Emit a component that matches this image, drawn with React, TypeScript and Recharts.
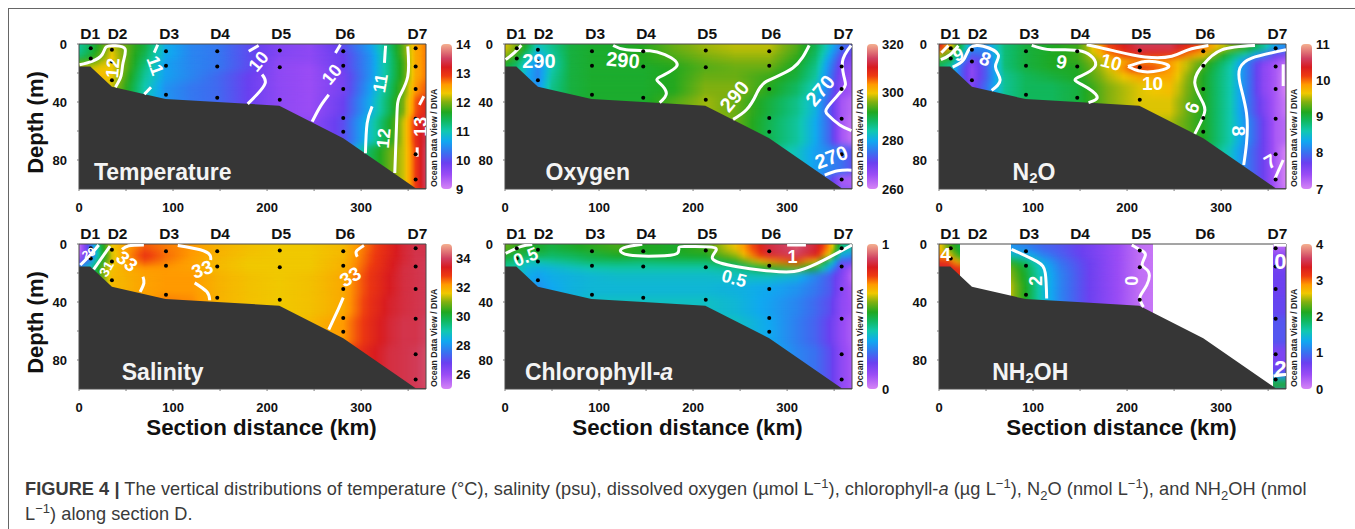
import React from "react";
import { Area, Bar, ComposedChart, Line, ReferenceArea, Scatter, XAxis, YAxis } from "recharts";

const FONT = "'Liberation Sans', Arial, sans-serif";

const stationLabels = ["D1", "D2", "D3", "D4", "D5", "D6", "D7"];
const stationLabelKm = [12, 41, 96, 150, 215, 283, 360];
const stationDots = [
  { x: 12.5, y: 3 }, { x: 12.5, y: 10 },
  { x: 35, y: 4 }, { x: 35, y: 12 }, { x: 35, y: 25 },
  { x: 92.5, y: 5 }, { x: 92.5, y: 15 }, { x: 92.5, y: 35 },
  { x: 147, y: 5 }, { x: 147, y: 15.5 }, { x: 147, y: 37 },
  { x: 213.5, y: 4.5 }, { x: 213.5, y: 16 }, { x: 213.5, y: 38.5 },
  { x: 281, y: 5 }, { x: 281, y: 15 }, { x: 281, y: 31 }, { x: 281, y: 51 }, { x: 281, y: 60.5 },
  { x: 358, y: 3 }, { x: 358, y: 15.5 }, { x: 358, y: 31 }, { x: 358, y: 51.5 }, { x: 358, y: 76 }, { x: 358, y: 93.5 },
];
// NH2OH was only sampled at four of the stations
const nh2ohDots = [
  { x: 12.5, y: 3 }, { x: 12.5, y: 10 },
  { x: 92.5, y: 5 }, { x: 92.5, y: 15 }, { x: 92.5, y: 35 },
  { x: 213.5, y: 4.5 }, { x: 213.5, y: 16 }, { x: 213.5, y: 38.5 },
  { x: 358, y: 3 }, { x: 358, y: 15.5 }, { x: 358, y: 31 }, { x: 358, y: 51.5 }, { x: 358, y: 76 }, { x: 358, y: 93.5 },
];
const seafloor = [
  { x: 0, y: 15.5 }, { x: 12, y: 15.5 }, { x: 35, y: 29.5 }, { x: 92, y: 38 }, { x: 147, y: 40 },
  { x: 213, y: 42.5 }, { x: 281, y: 65 }, { x: 358, y: 99.5 }, { x: 369, y: 99.5 },
];

const paletteStops: [number, string][] = [
  [0, "#d684f6"], [0.1, "#9a4cf5"], [0.18, "#6a40f0"], [0.25, "#3a70f0"], [0.33, "#10a8f0"],
  [0.4, "#10c8b0"], [0.47, "#10b860"], [0.53, "#20a820"], [0.6, "#80b010"], [0.66, "#f0c800"],
  [0.72, "#ff9a00"], [0.78, "#ee3a10"], [0.84, "#d81c20"], [0.9, "#d04060"], [1, "#f4b090"],
];

const sectionKm = [0, 12, 24, 35, 50, 70, 92, 120, 147, 180, 213, 245, 281, 310, 330, 345, 358, 369];
const nh2ohKm = [0, 10, 22, 77, 92, 110, 130, 160, 190, 213, 228, 355, 369];

const temperatureDepths = [0, 5, 10, 14, 19, 26, 36, 50, 70];
const temperatureField = [
  [11.1, 11.4, 11.8, 12.2, 11.9, 11.5, 10.7, 10.4, 10.3, 10.0, 9.7, 9.6, 10.0, 10.6, 11.3, 11.9, 12.5, 12.7],
  [11.2, 11.5, 11.9, 12.3, 11.9, 11.4, 10.7, 10.4, 10.3, 10.0, 9.7, 9.6, 9.9, 10.5, 11.2, 11.9, 12.5, 12.7],
  [11.7, 11.8, 12.1, 12.3, 11.9, 11.3, 10.6, 10.4, 10.3, 10.0, 9.6, 9.6, 9.9, 10.5, 11.2, 11.8, 12.5, 12.7],
  [12.2, 12.2, 12.3, 12.3, 11.9, 11.2, 10.6, 10.4, 10.3, 10.0, 9.6, 9.5, 9.9, 10.5, 11.2, 11.8, 12.5, 12.7],
  [12.3, 12.3, 12.4, 12.3, 11.8, 11.1, 10.6, 10.4, 10.2, 9.9, 9.6, 9.5, 9.8, 10.5, 11.2, 11.8, 12.5, 12.7],
  [12.3, 12.3, 12.3, 12.2, 11.7, 11.0, 10.5, 10.3, 10.2, 9.9, 9.6, 9.5, 9.8, 10.6, 11.3, 11.9, 12.6, 12.8],
  [12.3, 12.3, 12.0, 11.6, 11.5, 10.9, 10.5, 10.3, 10.2, 9.9, 9.6, 9.5, 9.9, 10.7, 11.4, 12.0, 12.8, 13.1],
  [12.3, 12.3, 12.0, 11.6, 11.5, 10.9, 10.5, 10.3, 10.2, 9.9, 9.6, 9.6, 10.0, 10.9, 11.6, 12.2, 13.0, 13.4],
  [12.3, 12.3, 12.0, 11.6, 11.5, 10.9, 10.5, 10.3, 10.2, 9.9, 9.6, 9.6, 10.2, 11.4, 11.9, 12.2, 12.9, 13.5],
];

const oxygenDepths = [0, 5, 10, 14, 19, 26, 36, 50, 70, 90];
const oxygenField = [
  [299, 296, 290, 283, 286, 290, 291, 291, 292, 295, 297, 298, 298, 294, 289, 282, 275, 273],
  [297, 293, 286, 280, 285, 290, 291, 291, 292, 294, 296, 297, 297, 293, 288, 280, 272, 270],
  [293, 289, 282, 278, 284, 290, 291, 291, 292, 293, 295, 296, 296, 292, 287, 278, 270, 268],
  [290, 287, 281, 277, 284, 290, 291, 291, 291, 292, 294, 295, 295, 291, 286, 277, 269, 267],
  [290, 287, 280, 277, 285, 290, 291, 291, 291, 292, 295, 295, 293, 290, 285, 276, 268, 266],
  [290, 287, 280, 278, 286, 290, 291, 291, 291, 292, 296, 296, 292, 288, 283, 275, 267, 265],
  [290, 287, 281, 282, 287, 290, 291, 291, 291, 294, 297, 295, 290, 286, 281, 273, 265, 263],
  [290, 287, 281, 282, 287, 290, 291, 291, 291, 294, 298, 295, 289, 285, 280, 274, 265, 262],
  [290, 287, 281, 282, 287, 290, 291, 291, 291, 294, 298, 295, 287, 283, 279, 277, 275, 272],
  [290, 287, 281, 282, 287, 290, 291, 291, 291, 294, 298, 295, 287, 283, 279, 273, 265, 264],
];

const n2oDepths = [0, 5, 10, 14, 19, 26, 36, 50, 70];
const n2oField = [
  [10.3, 9.7, 8.9, 8.2, 8.2, 8.8, 9.0, 9.1, 9.2, 10.1, 10.55, 10.55, 10.0, 9.4, 9.1, 8.7, 8.3, 8.2],
  [9.6, 9.2, 8.5, 7.9, 8.0, 8.8, 9.0, 9.1, 9.2, 9.9, 10.3, 10.2, 9.7, 8.9, 8.5, 8.1, 7.7, 7.6],
  [9.0, 8.9, 8.1, 7.6, 7.9, 8.8, 9.0, 9.1, 9.2, 9.6, 9.8, 9.8, 9.3, 8.7, 8.0, 7.6, 7.4, 7.2],
  [8.9, 8.6, 7.9, 7.5, 7.9, 8.8, 9.0, 9.1, 9.1, 9.6, 10.3, 9.9, 9.2, 8.6, 8.0, 7.5, 7.3, 7.1],
  [8.9, 8.6, 7.9, 7.5, 7.9, 8.7, 8.9, 9.0, 9.1, 9.5, 9.8, 9.8, 9.1, 8.6, 8.0, 7.5, 7.3, 7.0],
  [8.9, 8.6, 7.9, 7.6, 8.0, 8.7, 8.9, 8.9, 9.0, 9.4, 9.6, 9.7, 9.1, 8.6, 8.0, 7.5, 7.3, 7.0],
  [8.9, 8.6, 7.9, 7.7, 8.1, 8.7, 8.9, 8.9, 9.0, 9.4, 9.6, 9.6, 9.1, 8.6, 8.0, 7.6, 7.3, 7.1],
  [8.9, 8.6, 7.9, 7.7, 8.1, 8.7, 8.9, 8.9, 9.0, 9.4, 9.6, 9.5, 9.1, 8.6, 8.1, 7.7, 7.3, 7.2],
  [8.9, 8.6, 7.9, 7.7, 8.1, 8.7, 8.9, 8.9, 9.0, 9.4, 9.6, 9.5, 9.0, 8.5, 8.0, 7.7, 7.3, 7.0],
];

const salinityDepths = [0, 5, 10, 14, 19, 26, 36, 50, 70];
const salinityField = [
  [25.3, 27.5, 30.0, 31.6, 32.1, 32.6, 32.4, 32.2, 31.9, 31.7, 31.6, 31.6, 31.8, 32.6, 33.2, 33.6, 33.8, 33.8],
  [25.5, 27.0, 29.8, 31.4, 32.2, 32.9, 32.5, 32.2, 31.9, 31.7, 31.6, 31.6, 31.8, 32.7, 33.2, 33.6, 33.8, 33.8],
  [26.5, 28.0, 30.2, 31.5, 32.1, 32.7, 32.4, 32.1, 31.8, 31.6, 31.6, 31.6, 31.9, 32.7, 33.3, 33.6, 33.8, 33.9],
  [28.0, 29.0, 30.8, 31.7, 32.0, 32.2, 32.2, 32.1, 31.8, 31.6, 31.6, 31.6, 31.9, 32.8, 33.3, 33.7, 33.8, 33.9],
  [28.0, 29.0, 30.8, 31.8, 31.9, 32.1, 32.2, 32.2, 31.9, 31.7, 31.6, 31.7, 32.0, 32.9, 33.4, 33.7, 33.8, 33.9],
  [28.0, 29.0, 30.8, 31.8, 31.9, 32.1, 32.2, 32.2, 31.9, 31.7, 31.6, 31.7, 32.0, 32.9, 33.4, 33.7, 33.8, 33.9],
  [28.0, 29.0, 30.8, 31.8, 31.9, 32.1, 32.4, 32.3, 31.9, 31.7, 31.6, 31.7, 32.0, 33.0, 33.5, 33.7, 33.8, 33.9],
  [28.0, 29.0, 30.8, 31.8, 31.9, 32.1, 32.4, 32.3, 31.9, 31.7, 31.6, 31.8, 32.2, 33.1, 33.6, 33.8, 33.8, 34.0],
  [28.0, 29.0, 30.8, 31.8, 31.9, 32.1, 32.4, 32.3, 31.9, 31.7, 31.6, 31.8, 32.6, 33.3, 33.7, 33.8, 33.9, 34.1],
];

const chlorophyllDepths = [0, 5, 10, 14, 19, 26, 36, 50, 70];
const chlorophyllField = [
  [0.58, 0.55, 0.53, 0.52, 0.5, 0.52, 0.54, 0.56, 0.53, 0.52, 0.56, 0.67, 0.87, 0.92, 0.86, 0.72, 0.45, 0.4],
  [0.53, 0.5, 0.49, 0.49, 0.47, 0.48, 0.5, 0.53, 0.52, 0.52, 0.53, 0.62, 0.86, 0.9, 0.84, 0.65, 0.35, 0.3],
  [0.47, 0.44, 0.4, 0.4, 0.42, 0.44, 0.47, 0.47, 0.46, 0.47, 0.47, 0.54, 0.72, 0.78, 0.68, 0.44, 0.22, 0.2],
  [0.42, 0.4, 0.36, 0.35, 0.36, 0.38, 0.4, 0.41, 0.41, 0.41, 0.41, 0.43, 0.55, 0.6, 0.5, 0.33, 0.16, 0.08],
  [0.42, 0.4, 0.34, 0.32, 0.34, 0.35, 0.36, 0.37, 0.37, 0.37, 0.37, 0.38, 0.38, 0.35, 0.28, 0.22, 0.14, 0.05],
  [0.42, 0.4, 0.34, 0.3, 0.33, 0.35, 0.36, 0.36, 0.36, 0.36, 0.36, 0.35, 0.33, 0.3, 0.26, 0.22, 0.13, 0.08],
  [0.42, 0.4, 0.34, 0.3, 0.33, 0.35, 0.38, 0.38, 0.38, 0.38, 0.38, 0.36, 0.32, 0.28, 0.24, 0.2, 0.12, 0.09],
  [0.42, 0.4, 0.34, 0.3, 0.33, 0.35, 0.38, 0.38, 0.38, 0.4, 0.4, 0.38, 0.33, 0.27, 0.23, 0.18, 0.11, 0.07],
  [0.42, 0.4, 0.34, 0.3, 0.33, 0.35, 0.38, 0.38, 0.38, 0.4, 0.4, 0.38, 0.34, 0.28, 0.25, 0.2, 0.12, 0.08],
];

const nh2ohDepths = [0, 5, 10, 14, 19, 26, 36, 50, 70, 84, 90, 94];
const _ = null;
const nh2ohField = [
  [2.7, 2.3, 2.0, 1.2, 1.1, 0.95, 0.85, 0.65, 0.4, 0.15, 0.1, 0.2, 0.2],
  [2.9, 2.7, 2.1, 1.5, 1.4, 1.1, 0.9, 0.65, 0.4, 0.15, 0.1, 0.5, 0.5],
  [3.2, 3.1, 2.6, 2.0, 1.8, 1.35, 1.0, 0.7, 0.4, 0.15, 0.1, 0.6, 0.6],
  [3.4, 3.4, 3.2, 2.3, 2.0, 1.45, 1.05, 0.7, 0.4, 0.15, 0.1, 0.65, 0.65],
  [_, _, _, 2.4, 2.05, 1.5, 1.1, 0.7, 0.4, 0.15, 0.1, 0.7, 0.7],
  [_, _, _, 2.5, 2.1, 1.5, 1.1, 0.7, 0.4, 0.15, 0.1, 0.7, 0.7],
  [_, _, _, 2.5, 2.1, 1.5, 1.1, 0.7, 0.4, 0.15, 0.1, 0.75, 0.75],
  [_, _, _, 2.5, 2.1, 1.5, 1.1, 0.7, 0.4, 0.15, 0.1, 0.85, 0.85],
  [_, _, _, 2.5, 2.1, 1.5, 1.1, 0.7, 0.4, 0.15, 0.1, 0.6, 0.6],
  [_, _, _, 2.5, 2.1, 1.5, 1.1, 0.7, 0.4, 0.15, 0.1, 0.7, 0.7],
  [_, _, _, 2.5, 2.1, 1.5, 1.1, 0.7, 0.4, 0.15, 0.1, 1.3, 1.3],
  [_, _, _, 2.5, 2.1, 1.5, 1.1, 0.7, 0.4, 0.15, 0.1, 2.1, 2.1],
];

type Pt = { x: number; y: number };
const pts = (...v: number[]): Pt[] => {
  const out: Pt[] = [];
  for (let i = 0; i < v.length; i += 2) out.push({ x: v[i], y: v[i + 1] });
  return out;
};

const temperatureContours = [
  pts(0.7, 14.3, 13.8, 12, 24.5, 7.4, 29, 2, 38.7, 1.2, 49, 3.5, 46.8, 13, 44.7, 22, 38.7, 29.8),
  pts(83.7, 0.5, 80, 6),
  pts(76.6, 29.8, 69.5, 34.6),
  pts(191, 1, 180.5, 5),
  pts(194.7, 21, 198, 27, 189, 35, 179.4, 41.3),
  pts(278, 0.5, 272.7, 6.2),
  pts(265.6, 35, 256.7, 43, 248, 53.5),
  pts(326, 1.2, 324.8, 13),
  pts(311.7, 43, 306.4, 54.7, 304.6, 75.4),
  pts(349.6, 1.6, 349.6, 22.4, 341, 36, 338, 50, 335.8, 89),
  pts(366.7, 36, 362, 42),
  pts(359.6, 71.3, 359.6, 77.7),
];
const temperatureLabels = [
  { x: 36, y: 16.6, text: "12", angle: -85, size: 18 },
  { x: 81, y: 15, text: "11", angle: 70, size: 18 },
  { x: 191, y: 12, text: "10", angle: -50, size: 18 },
  { x: 269, y: 21, text: "10", angle: -50, size: 18 },
  { x: 320.6, y: 27, text: "11", angle: -80, size: 18 },
  { x: 324, y: 65, text: "12", angle: -85, size: 18 },
  { x: 364, y: 57, text: "13", angle: -90, size: 18 },
];

const oxygenContours = [
  pts(0.7, 10.8, 10.3, 5.8, 17.4, 0.9),
  pts(115, 1, 129, 4, 154, 4.6, 170, 7.4, 183, 14.8, 164.5, 22.8, 164.5, 27, 171.6, 34, 164.5, 40.4),
  pts(323.4, 1, 306, 16.6, 278, 25.8, 267, 35, 256.7, 45.4, 242.6, 52),
  pts(368, 1, 358.9, 12, 361.3, 24.7, 358.9, 31.6, 343.6, 43, 343.6, 49, 356, 55.8, 368.4, 59.7),
  pts(340, 90.4, 354, 87.4, 368.4, 87),
];
const oxygenLabels = [
  { x: 36, y: 11.5, text: "290", angle: 0, size: 20 },
  { x: 125.5, y: 11, text: "290", angle: 5, size: 20 },
  { x: 244, y: 36, text: "290", angle: -50, size: 20 },
  { x: 335, y: 32, text: "270", angle: -50, size: 20 },
  { x: 347, y: 78, text: "270", angle: -20, size: 20 },
];

const n2oContours = [
  pts(2, 10.8, 11.7, 7.4, 20.6, 1.2),
  pts(2.5, 6, 10, 1),
  pts(14.5, 16, 26, 11, 33, 2.8, 47, 1.6, 63, 7.4, 60, 15.5, 65, 24.7, 56, 32),
  pts(98.6, 1, 120, 4, 152, 5, 166, 15.5, 146.5, 23.5, 152, 28, 168, 36, 159, 40.4),
  pts(157, 0.5, 184, 4.4, 219, 9, 247.5, 8.5, 265, 4, 286.5, 1),
  pts(201, 15.5, 219, 12, 237, 13, 244, 16, 228, 19, 212, 18.5, 201, 15.5),
  pts(336, 1, 300.7, 4, 281, 14.3, 272, 27, 281, 41, 281, 50, 272, 62),
  pts(369, 4, 332.6, 9.7, 320, 16.6, 320, 27, 327, 47.7, 327, 68.5, 324, 83.5),
  pts(366, 14, 366, 29),
  pts(366, 80, 357.4, 92.7),
];
const n2oLabels = [
  { x: 20.6, y: 7.4, text: "9", angle: -20, size: 18 },
  { x: 49, y: 10.4, text: "8", angle: 20, size: 19 },
  { x: 130.5, y: 12.5, text: "9", angle: 10, size: 19 },
  { x: 183, y: 12.5, text: "10", angle: 15, size: 19 },
  { x: 227, y: 27, text: "10", angle: 0, size: 19 },
  { x: 269, y: 44, text: "9", angle: 110, size: 19 },
  { x: 318, y: 60, text: "8", angle: 90, size: 19 },
  { x: 352, y: 81, text: "7", angle: -30, size: 19 },
];

const salinityContours = [
  pts(1.4, 14.5, 12, 7.6, 21, 0.7),
  pts(15.6, 17.5, 33, 1.4),
  pts(45.7, 3.7, 53, 1.2, 69, 0.7),
  pts(68, 22.6, 69, 27, 65, 33),
  pts(105, 1, 129, 4, 139.2, 7.6, 140, 11),
  pts(123, 26.8, 136, 33, 139, 38.8),
  pts(303, 1, 295, 5, 296, 8.8),
  pts(281, 37, 276, 44.5, 265.6, 59),
];
const salinityLabels = [
  { x: 10.3, y: 6.5, text: "29", angle: -30, size: 12 },
  { x: 29, y: 17, text: "31", angle: -60, size: 14 },
  { x: 51, y: 12, text: "33", angle: 40, size: 19 },
  { x: 131, y: 17.5, text: "33", angle: -20, size: 19 },
  { x: 288.5, y: 22.6, text: "33", angle: -30, size: 19 },
];

const chlorophyllContours = [
  pts(0.7, 6.5, 16.7, 1.8, 29, 0.3),
  pts(146, 0.2, 133.7, 1.4, 123, 4, 132, 7.6, 162, 8.3, 183, 6.5, 185, 2.3, 197.5, 1.8, 224, 3, 220.6, 10, 247, 15.7, 282.6, 18.7, 307.4, 19, 332, 13.4, 369, 0.7),
  pts(300, 0.7, 320, 0.7),
];
const chlorophyllLabels = [
  { x: 22, y: 9, text: "0.5", angle: -20, size: 18 },
  { x: 243.6, y: 23.8, text: "0.5", angle: 15, size: 18 },
  { x: 305.7, y: 9.2, text: "1", angle: 0, size: 18 },
];

const nh2ohContours = [
  pts(77, 3.7, 104, 12, 113, 20, 114.5, 37.6),
  pts(205, 0.7, 214, 4, 219.5, 7.6, 216, 14.5, 222.7, 19, 220.9, 28.4, 213.8, 36.4, 217.4, 43.4),
  pts(355.7, 91, 369, 90),
  pts(355.7, 0.8, 369, 0.8),
];
const nh2ohLabels = [
  { x: 7, y: 7, text: "4", angle: 0, size: 19 },
  { x: 103, y: 25.4, text: "2", angle: -90, size: 18 },
  { x: 205, y: 25.4, text: "0", angle: -90, size: 18 },
  { x: 363, y: 12, text: "0", angle: 0, size: 22 },
  { x: 363, y: 86, text: "2", angle: 0, size: 22 },
];

type TitlePart = { t: string; sub?: boolean; italic?: boolean };

const PLOT_W = 347;
const PLOT_H = 145;
const MAX_KM = 369;
const LEFT_W = 80;
const TOP_H = 30;
const BOTTOM_H = 60;

const hexRgb = (h: string) => [1, 3, 5].map((i) => parseInt(h.slice(i, i + 2), 16));
function paletteColor(t: number) {
  const v = Math.max(0, Math.min(1, t));
  for (let i = 1; i < paletteStops.length; i++) {
    const [t1, c1] = paletteStops[i];
    if (v <= t1) {
      const [t0, c0] = paletteStops[i - 1];
      const k = (v - t0) / (t1 - t0);
      const a = hexRgb(c0);
      const b = hexRgb(c1);
      return `rgb(${a.map((x, j) => Math.round(x + (b[j] - x) * k)).join(",")})`;
    }
  }
  return paletteStops[paletteStops.length - 1][1];
}

// horizontal gradient for one depth band; extra stops keep the blend on the palette
function BandGradient({ id, km, row, min, max }: any) {
  const stops: React.ReactNode[] = [];
  row.forEach((v: number | null, i: number) => {
    const next = row[i + 1];
    const off = km[i] / MAX_KM;
    if (v === null) return;
    const color = (x: number) => paletteColor((x - min) / (max - min));
    const prev = row[i - 1];
    const gapBefore = i > 0 && (prev === null || km[i] - km[i - 1] > 50);
    if (i > 0 && gapBefore) {
      stops.push(<stop key={`${i}e`} offset={off} stopColor={color(v)} stopOpacity={0} />);
    }
    stops.push(<stop key={i} offset={off} stopColor={color(v)} />);
    if (i === row.length - 1) return;
    if (next === null || km[i + 1] - km[i] > 50) {
      // gap between separate patches of data
      stops.push(<stop key={`${i}g`} offset={off} stopColor={color(v)} stopOpacity={0} />);
      return;
    }
    for (let s = 1; s < 4; s++) {
      const f = s / 4;
      stops.push(
        <stop key={`${i}-${s}`} offset={(km[i] + (km[i + 1] - km[i]) * f) / MAX_KM} stopColor={color(v + (next - v) * f)} />
      );
    }
  });
  return (
    <linearGradient id={id} x1="0" y1="0" x2="1" y2="0">
      {stops}
    </linearGradient>
  );
}

const renderDot = (p: any) => <circle cx={p.cx} cy={p.cy} r={2} fill="#000" />;

const renderContourLabel = (p: any) => {
  const { text, angle, size } = p.payload;
  return (
    <text
      x={p.cx}
      y={p.cy}
      fill="#fff"
      fontFamily={FONT}
      fontWeight="bold"
      fontSize={size}
      textAnchor="middle"
      dominantBaseline="central"
      transform={`rotate(${angle} ${p.cx} ${p.cy})`}
    >
      {text}
    </text>
  );
};

function Panel({ id, left, top, km, depths, field, min, max, ticks, contours, labels, dots, title, titleAt, depthLabel, xLabel }: any) {
  const bands = depths.map((d: number, i: number) => ({
    key: `${id}-band-${i}`,
    data: [
      { x: 0, range: [d, 120] },
      { x: MAX_KM, range: [d, 120] },
    ],
  }));
  const floorData = seafloor.map((s) => ({ x: s.x, range: [s.y, 100] }));
  const barData = [{ name: "scale", value: [min, max] }];
  const stationRefs = stationLabelKm.map((x) => ({ x, y: 0 }));

  return (
    <>
      <div style={{ position: "absolute", left: left - LEFT_W, top: top - TOP_H }}>
        <ComposedChart width={LEFT_W + PLOT_W + 2} height={TOP_H + PLOT_H + BOTTOM_H} margin={{ top: 0, right: 2, bottom: 0, left: 0 }}>
          <defs>
            <filter id={`${id}-soft`} x="-2%" y="-30%" width="104%" height="160%" colorInterpolationFilters="sRGB">
              <feGaussianBlur stdDeviation="0 3.5" />
            </filter>
            <clipPath id={`${id}-plot`}>
              <rect x={LEFT_W} y={TOP_H} width={PLOT_W} height={PLOT_H} />
            </clipPath>
            {field.map((row: any, i: number) => (
              <BandGradient key={i} id={`${id}-grad-${i}`} km={km} row={row} min={min} max={max} />
            ))}
          </defs>
          <XAxis
            dataKey="x"
            type="number"
            domain={[0, MAX_KM]}
            allowDataOverflow
            ticks={[0, 50, 100, 150, 200, 250, 300, 350]}
            tickFormatter={(v: number) => (v % 100 === 0 ? String(v) : "")}
            tick={{ fontFamily: FONT, fontWeight: "bold", fontSize: 13, fill: "#111" }}
            tickSize={2}
            tickMargin={12}
            height={BOTTOM_H}
            stroke="#777"
            axisLine={false}
            interval={0}
            label={
              xLabel
                ? { value: "Section distance (km)", position: "insideTop", dx: 9, dy: 25, fontFamily: FONT, fontWeight: "bold", fontSize: 22.3, fill: "#111" }
                : undefined
            }
          />
          <XAxis
            xAxisId="stations"
            dataKey="x"
            orientation="top"
            type="number"
            domain={[0, MAX_KM]}
            ticks={stationLabelKm}
            tickFormatter={(v: number) => stationLabels[stationLabelKm.indexOf(v)]}
            tick={{ fontFamily: FONT, fontWeight: "bold", fontSize: 15.5, fill: "#111" }}
            tickLine={false}
            axisLine={false}
            tickSize={0}
            tickMargin={5}
            height={TOP_H}
            interval={0}
          />
          <YAxis
            dataKey="y"
            type="number"
            reversed
            domain={[0, 100]}
            allowDataOverflow
            ticks={[0, 20, 40, 60, 80]}
            tickFormatter={(v: number) => (v % 40 === 0 ? String(v) : "")}
            tick={{ fontFamily: FONT, fontWeight: "bold", fontSize: 13, fill: "#111" }}
            tickSize={2}
            tickMargin={10}
            width={LEFT_W}
            stroke="#777"
            axisLine={false}
            interval={0}
            label={
              depthLabel
                ? { value: "Depth (m)", angle: -90, position: "insideLeft", textAnchor: "middle", dx: 31, dy: 6, fontFamily: FONT, fontWeight: "bold", fontSize: 22, fill: "#111" }
                : undefined
            }
          />
          <Scatter xAxisId="stations" data={stationRefs} shape={() => <g />} isAnimationActive={false} />
          {bands.map((b: any, i: number) => (
            <Area
              key={b.key}
              data={b.data}
              dataKey="range"
              type="linear"
              stroke="none"
              fill={`url(#${id}-grad-${i})`}
              fillOpacity={1}
              dot={false}
              activeDot={false}
              className={i > 0 ? `${id}-soft` : `${id}-first`}
              isAnimationActive={false}
            />
          ))}
          <Area data={floorData} dataKey="range" type="linear" stroke="none" fill="#363636" fillOpacity={1} dot={false} activeDot={false} isAnimationActive={false} />
          {contours.map((c: Pt[], i: number) => (
            <Line key={i} data={c} dataKey="y" type="natural" stroke="#fff" strokeWidth={3} dot={false} activeDot={false} isAnimationActive={false} />
          ))}
          <Scatter data={dots} shape={renderDot} isAnimationActive={false} />
          <Scatter data={labels} shape={renderContourLabel} isAnimationActive={false} />
          <Scatter
            data={[titleAt]}
            isAnimationActive={false}
            shape={(p: any) => (
              <text x={p.cx} y={p.cy} fill="#f4f4f4" fontFamily={FONT} fontWeight="bold" fontSize={23} textAnchor="middle" dominantBaseline="central">
                {title.map((part: TitlePart, i: number) => (
                  <tspan
                    key={i}
                    fontStyle={part.italic ? "italic" : undefined}
                    fontSize={part.sub ? 15 : 23}
                    dy={part.sub ? 5 : i > 0 && title[i - 1].sub ? -5 : 0}
                  >
                    {part.t}
                  </tspan>
                ))}
              </text>
            )}
          />
          <ReferenceArea x1={0} x2={MAX_KM} y1={0} y2={100} fill="none" stroke="#4a4a4a" strokeWidth={1} />
        </ComposedChart>
      </div>
      <div
        style={{
          position: "absolute",
          left: left + 355,
          top: top + PLOT_H / 2 + 40.5,
          width: 0,
          height: 0,
          whiteSpace: "nowrap",
          fontFamily: FONT,
          fontWeight: "bold",
          fontSize: 8.8,
          color: "#222",
          transform: "rotate(-90deg)",
          transformOrigin: "0 0",
          lineHeight: 0,
          textAlign: "left",
        }}
      >
        <span style={{ position: "absolute", left: -30, top: 0 }}>Ocean Data View / DIVA</span>
      </div>
      <div style={{ position: "absolute", left: left + 361, top: top - 10 }}>
        <ComposedChart width={50} height={PLOT_H + 20} data={barData} margin={{ top: 10, right: 0, bottom: 10, left: 0 }}>
          <defs>
            <linearGradient id={`${id}-scale`} x1="0" y1="1" x2="0" y2="0">
              {paletteStops.map(([t, c]) => (
                <stop key={t} offset={t} stopColor={c} />
              ))}
            </linearGradient>
          </defs>
          <XAxis dataKey="name" hide />
          <YAxis
            orientation="right"
            type="number"
            domain={[min, max]}
            ticks={ticks}
            width={37}
            tick={{ fontFamily: FONT, fontWeight: "bold", fontSize: 13, fill: "#111", textAnchor: "start" }}
            tickLine={false}
            axisLine={false}
            tickSize={0}
            tickMargin={3}
            interval={0}
          />
          <Bar dataKey="value" barSize={11} radius={4} fill={`url(#${id}-scale)`} isAnimationActive={false} />
        </ComposedChart>
      </div>
    </>
  );
}

const supOne = (
  <span>
    L<sup style={{ fontSize: 13, lineHeight: 0 }}>−1</sup>
  </span>
);
const sub2 = <sub style={{ fontSize: 13, lineHeight: 0 }}>2</sub>;
const captionStyle: React.CSSProperties = {
  position: "absolute",
  left: 25,
  whiteSpace: "nowrap",
  fontFamily: FONT,
  fontSize: 18.2,
  letterSpacing: 0.05,
  color: "#3a3a3a",
  lineHeight: "20px",
};

export default function App() {
  return (
    <div style={{ position: "absolute", left: 0, top: 0, width: 1355, height: 529, background: "#fff", overflow: "hidden" }}>
      <style>
        {["t", "o", "n", "s", "c", "h"]
          .map((k) => `.${k}-soft{filter:url(#${k}-soft);clip-path:url(#${k}-plot)}.${k}-first{clip-path:url(#${k}-plot)}`)
          .join("")}
      </style>
      <div style={{ position: "absolute", left: 8, top: 8, width: 1347, height: 521, borderTop: "1.5px solid #666", borderLeft: "1.5px solid #666" }} />

      <Panel id="t" left={78.7} top={44.3} km={sectionKm} depths={temperatureDepths} field={temperatureField} min={9} max={14} ticks={[9, 10, 11, 12, 13, 14]}
        contours={temperatureContours} labels={temperatureLabels} dots={stationDots} title={[{ t: "Temperature" }]} titleAt={{ x: 89, y: 88.5 }} depthLabel />
      <Panel id="o" left={505.3} top={44.3} km={sectionKm} depths={oxygenDepths} field={oxygenField} min={260} max={320} ticks={[260, 280, 300, 320]}
        contours={oxygenContours} labels={oxygenLabels} dots={stationDots} title={[{ t: "Oxygen" }]} titleAt={{ x: 88, y: 88.5 }} />
      <Panel id="n" left={939} top={44.3} km={sectionKm} depths={n2oDepths} field={n2oField} min={7} max={11} ticks={[7, 8, 9, 10, 11]}
        contours={n2oContours} labels={n2oLabels} dots={stationDots} title={[{ t: "N" }, { t: "2", sub: true }, { t: "O" }]} titleAt={{ x: 101, y: 88 }} />
      <Panel id="s" left={78.7} top={244} km={sectionKm} depths={salinityDepths} field={salinityField} min={25} max={35} ticks={[26, 28, 30, 32, 34]}
        contours={salinityContours} labels={salinityLabels} dots={stationDots} title={[{ t: "Salinity" }]} titleAt={{ x: 89, y: 88.5 }} depthLabel xLabel />
      <Panel id="c" left={504.6} top={244} km={sectionKm} depths={chlorophyllDepths} field={chlorophyllField} min={0} max={1} ticks={[0, 1]}
        contours={chlorophyllContours} labels={chlorophyllLabels} dots={stationDots} title={[{ t: "Chlorophyll-" }, { t: "a", italic: true }]} titleAt={{ x: 100, y: 88.5 }} xLabel />
      <Panel id="h" left={939} top={244} km={nh2ohKm} depths={nh2ohDepths} field={nh2ohField} min={0} max={4} ticks={[0, 1, 2, 3, 4]}
        contours={nh2ohContours} labels={nh2ohLabels} dots={nh2ohDots} title={[{ t: "NH" }, { t: "2", sub: true }, { t: "OH" }]} titleAt={{ x: 97, y: 88.5 }} xLabel />

      <div style={{ ...captionStyle, top: 479 }}>
        <b>FIGURE 4 |</b> The vertical distributions of temperature (°C), salinity (psu), dissolved oxygen (µmol {supOne}), chlorophyll-<i>a</i> (µg {supOne}), N{sub2}O (nmol {supOne}), and NH{sub2}OH (nmol
      </div>
      <div style={{ ...captionStyle, top: 504 }}>{supOne}) along section D.</div>
    </div>
  );
}
